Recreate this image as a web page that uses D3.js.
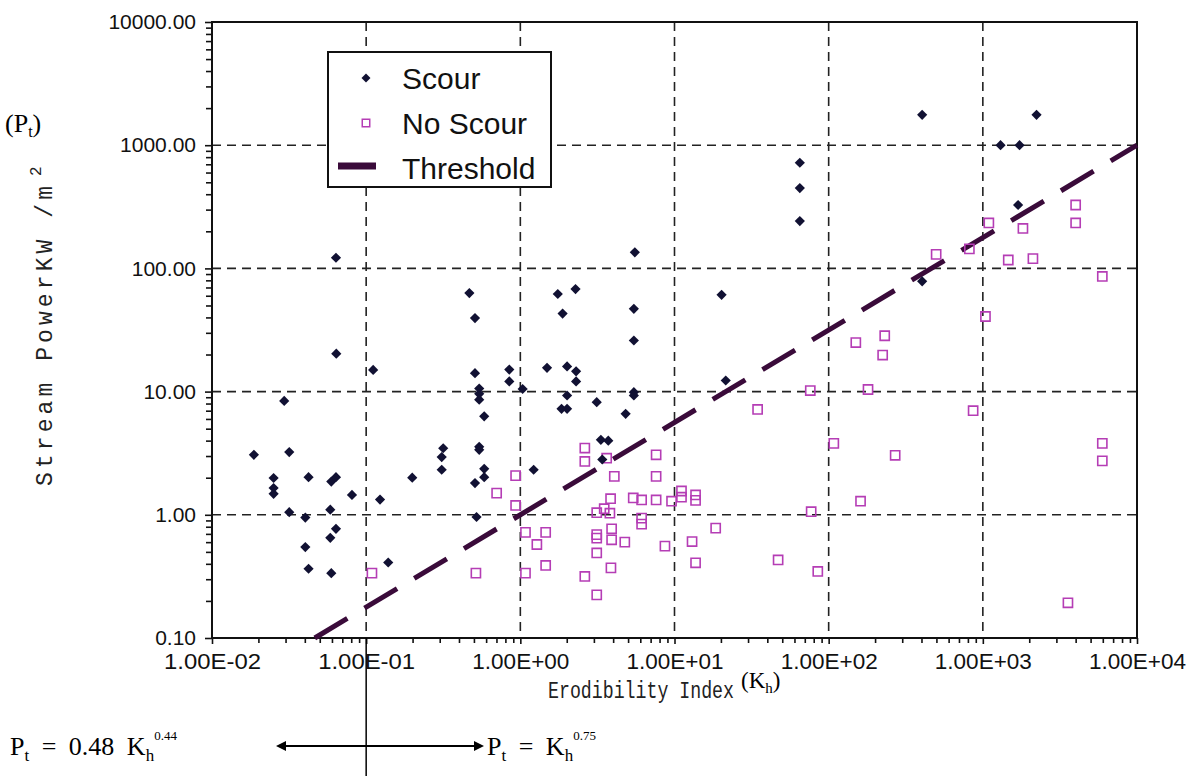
<!DOCTYPE html>
<html>
<head>
<meta charset="utf-8">
<title>Stream power vs erodibility index</title>
<script src="https://d3js.org/d3.v7.min.js"></script>
<style>
  body { margin: 0; background: #fff; }
  svg { display: block; }
  .tick text { font-family: "Liberation Sans", Arial, sans-serif; fill: #111; }
</style>
</head>
<body>
<svg id="chart" width="1190" height="776"></svg>
<script>
// --- data: [Kh, Pt] ---
var scourPoints = [
  [0.0637,122],[0.064,20.3],[0.0294,8.4],[0.0187,3.07],[0.0317,3.23],[0.0251,1.99],
  [0.0251,1.65],[0.0251,1.48],[0.0423,2.02],[0.0594,1.86],[0.0637,2.02],[0.0809,1.45],
  [0.0317,1.05],[0.0403,0.95],[0.0585,1.1],[0.0637,0.77],[0.0585,0.65],[0.0403,0.547],
  [0.0423,0.365],[0.0594,0.336],
  [0.467,63],[0.508,39.5],[0.111,15],[0.508,14.1],[0.848,15.1],[0.848,12.1],[1.035,10.5],
  [0.541,10.6],[0.541,9.6],[0.541,8.6],[0.583,6.3],[0.541,3.56],[0.541,3.37],[0.316,3.47],
  [0.309,2.94],[0.309,2.32],[0.583,2.36],[0.583,2.02],[0.199,2.0],[0.508,1.81],[0.123,1.33],
  [0.52,0.96],[0.139,0.41],
  [5.53,135],[1.75,62],[2.28,68],[1.88,43],[5.45,47],[5.45,26],[1.49,15.6],[2.01,16],
  [2.3,14.6],[2.3,12.1],[2.01,9.3],[1.85,7.25],[2.01,7.25],[3.13,8.2],[5.45,9.9],[5.45,9.3],
  [4.82,6.6],[3.33,4.06],[3.72,4.0],[3.4,2.81],[1.22,2.32],
  [21.5,12.3],[20.2,61],[65,720],[65,449],[65,242],
  [404,1763],[2230,1763],[1303,1000],[1730,1000],[1694,327],[404,78.5]
];
var noScourPoints = [
  [0.109,0.336],[0.515,0.336],[0.702,1.5],[0.932,2.08],[0.932,1.19],[1.08,0.72],[1.08,0.336],
  [2.62,3.48],[2.62,2.71],[3.63,2.88],[4.07,2.05],[7.6,3.07],[7.6,2.05],[3.85,1.35],[5.4,1.37],
  [6.12,1.32],[7.6,1.32],[9.57,1.29],[11.1,1.56],[11.1,1.39],[13.7,1.45],[13.7,1.31],
  [3.13,1.04],[3.5,1.12],[3.81,1.03],[6.12,0.94],[6.12,0.84],[1.46,0.72],[1.28,0.574],
  [3.13,0.69],[3.13,0.647],[3.91,0.627],[3.91,0.77],[4.76,0.6],[8.67,0.557],[3.13,0.49],
  [1.46,0.388],[3.87,0.371],[2.62,0.316],[3.13,0.224],
  [34.6,7.16],[18.5,0.78],[13.0,0.607],[13.7,0.408],[47,0.43],
  [1094,234],[1820,211],[4000,327],[4000,234],[1462,117],[2113,120],[5957,86],[498,130],
  [818,144],[1040,40.7],[150,25],[231,28.4],[224,19.8],[76,10.2],[180,10.4],[865,7.0],
  [108,3.8],[270,3.04],[161,1.29],[77,1.06],[5957,3.8],[5957,2.74],[85,0.347],[3565,0.193]
];
var thresholdPoints = [[0.0464,0.1],[10000,1000]];   // Pt = Kh^0.75

var xDecades = [0.01,0.1,1,10,100,1000,10000];
var xTickLabels = ["1.00E-02","1.00E-01","1.00E+00","1.00E+01","1.00E+02","1.00E+03","1.00E+04"];
var yDecades = [0.1,1,10,100,1000,10000];
var yTickLabels = ["0.10","1.00","10.00","100.00","1000.00","10000.00"];
var legendLabels = ["Scour","No Scour","Threshold"];

var plotLeft = 212, plotRight = 1137, plotTop = 22, plotBottom = 638;
var scourColor = "#111133", noScourColor = "#b53db5", threshColor = "#3a0b3a";

var svg = d3.select("#chart");
var x = d3.scaleLog().domain([0.01, 10000]).range([plotLeft, plotRight]);
var y = d3.scaleLog().domain([0.1, 10000]).range([plotBottom, plotTop]);

// minor tick positions 2..9 inside each decade
var xMinor = [], yMinor = [];
xDecades.slice(0,-1).forEach(function(d){ for (var m=2;m<10;m++) xMinor.push(d*m); });
yDecades.slice(0,-1).forEach(function(d){ for (var m=2;m<10;m++) yMinor.push(d*m); });

// dashed grid
svg.append("g").selectAll("line")
  .data(xDecades.slice(1,-1)).join("line")
  .attr("x1", d => x(d)).attr("x2", d => x(d))
  .attr("y1", plotTop).attr("y2", plotBottom)
  .attr("stroke", "#222").attr("stroke-width", 1.6).attr("stroke-dasharray", "9,6");
svg.append("g").selectAll("line")
  .data(yDecades.slice(1,-1)).join("line")
  .attr("y1", d => y(d)).attr("y2", d => y(d))
  .attr("x1", plotLeft).attr("x2", plotRight)
  .attr("stroke", "#222").attr("stroke-width", 1.6).attr("stroke-dasharray", "9,6");

// axes
var xAxis = svg.append("g").attr("transform", "translate(0," + plotBottom + ")")
  .call(d3.axisBottom(x).tickValues(xDecades).tickFormat((d,i) => xTickLabels[i]).tickSize(6).tickPadding(9));
var xMin = svg.append("g").attr("transform", "translate(0," + plotBottom + ")")
  .call(d3.axisBottom(x).tickValues(xMinor).tickFormat("").tickSize(5));
var yAxis = svg.append("g").attr("transform", "translate(" + plotLeft + ",0)")
  .call(d3.axisLeft(y).tickValues(yDecades).tickFormat((d,i) => yTickLabels[i]).tickSize(7).tickPadding(9));
var yMin = svg.append("g").attr("transform", "translate(" + plotLeft + ",0)")
  .call(d3.axisLeft(y).tickValues(yMinor).tickFormat("").tickSize(6));
[xAxis, xMin, yAxis, yMin].forEach(function(g){
  g.select(".domain").remove();
  g.selectAll(".tick line").attr("stroke", "#111").attr("stroke-width", 1.6);
});
xAxis.selectAll(".tick text").style("font-size", "22px").attr("textLength", 97).attr("lengthAdjust", "spacingAndGlyphs");
yAxis.selectAll(".tick text").style("font-size", "21px");

// frame
svg.append("rect").attr("x", plotLeft).attr("y", plotTop)
  .attr("width", plotRight-plotLeft).attr("height", plotBottom-plotTop)
  .attr("fill", "none").attr("stroke", "#111").attr("stroke-width", 2);

// threshold
svg.append("path").datum(thresholdPoints)
  .attr("d", d3.line().x(d => x(d[0])).y(d => y(d[1])))
  .attr("fill", "none").attr("stroke", threshColor).attr("stroke-width", 5)
  .attr("stroke-dasharray", "38,20");

// points
var diamond = d3.symbol().type(d3.symbolSquare).size(52);
var square = d3.symbol().type(d3.symbolSquare).size(84);
svg.append("g").selectAll("path")
  .data(noScourPoints).join("path")
  .attr("d", square)
  .attr("transform", d => "translate(" + x(d[0]) + "," + y(d[1]) + ")")
  .attr("fill", "none").attr("stroke", noScourColor).attr("stroke-width", 1.6);
svg.append("g").selectAll("path")
  .data(scourPoints).join("path")
  .attr("d", diamond)
  .attr("transform", d => "translate(" + x(d[0]) + "," + y(d[1]) + ") rotate(45)")
  .attr("fill", scourColor);

// legend
var lg = svg.append("g");
lg.append("rect").attr("x", 328).attr("y", 52).attr("width", 223).attr("height", 135)
  .attr("fill", "#fff").attr("stroke", "#111").attr("stroke-width", 2);
lg.append("path").attr("d", d3.symbol().type(d3.symbolSquare).size(40))
  .attr("transform", "translate(366,78) rotate(45)").attr("fill", scourColor);
lg.append("path").attr("d", d3.symbol().type(d3.symbolSquare).size(56))
  .attr("transform", "translate(366,123)").attr("fill", "none")
  .attr("stroke", noScourColor).attr("stroke-width", 1.5);
lg.append("line").attr("x1", 338).attr("x2", 376).attr("y1", 166).attr("y2", 166)
  .attr("stroke", threshColor).attr("stroke-width", 7);
lg.selectAll("text").data(legendLabels).join("text")
  .attr("x", 402).attr("y", (d,i) => 89 + i*45)
  .style("font-family", "Liberation Sans, Arial, sans-serif").style("font-size", "30px")
  .attr("fill", "#111").text(d => d);

// axis titles
var ylab = svg.append("text")
  .attr("transform", "translate(52,486) rotate(-90)")
  .style("font-family", "Liberation Mono, Courier New, monospace").style("font-size", "23px")
  .attr("fill", "#222");
ylab.append("tspan").text("Stream PowerKW /m").attr("textLength", 300).attr("lengthAdjust", "spacing");
ylab.append("tspan").text("2").attr("dx", 6).attr("dy", -11).style("font-size", "16px");

svg.append("text").attr("x", 548).attr("y", 698)
  .attr("textLength", 186).attr("lengthAdjust", "spacingAndGlyphs")
  .style("font-family", "Liberation Mono, Courier New, monospace").style("font-size", "24px")
  .attr("fill", "#222").text("Erodibility Index");

// math-like labels: parts are [text, fontSize, dy]
function subText(g, xPos, yPos, size, parts) {
  var t = g.append("text").attr("x", xPos).attr("y", yPos)
    .style("font-family", "Liberation Serif, Times New Roman, serif")
    .style("font-size", size + "px").style("word-spacing", "6px").attr("fill", "#000");
  parts.forEach(function(p){
    var s = t.append("tspan").text(p[0]);
    if (p[1]) s.style("font-size", p[1] + "px");
    if (p[2]) s.attr("dy", p[2]);
  });
  return t;
}
subText(svg, 741, 688, 23, [["(K"],["h",15,5],[")",null,-5]]);
subText(svg, 5, 132, 26, [["(P"],["t",16,5],[")",null,-5]]);
subText(svg, 10, 755, 26, [["P"],["t",17,6],[" = 0.48 K",null,-6],["h",17,6],["0.44",13,-21]]);
subText(svg, 487, 755, 26, [["P"],["t",17,6],[" = K",null,-6],["h",17,6],["0.75",13,-21]]);

// arrow and marker line
var defs = svg.append("defs");
["start","end"].forEach(function(k){
  defs.append("marker").attr("id", "arr-" + k)
    .attr("viewBox", "0 0 10 10").attr("refX", 5).attr("refY", 5)
    .attr("markerWidth", 5).attr("markerHeight", 5)
    .attr("orient", k == "start" ? "auto-start-reverse" : "auto")
    .append("path").attr("d", "M0,0 L10,5 L0,10 z").attr("fill", "#000");
});
svg.append("line").attr("x1", 281).attr("x2", 479).attr("y1", 746).attr("y2", 746)
  .attr("stroke", "#000").attr("stroke-width", 2)
  .attr("marker-start", "url(#arr-start)").attr("marker-end", "url(#arr-end)");
svg.append("line").attr("x1", x(0.1)).attr("x2", x(0.1)).attr("y1", plotBottom).attr("y2", 776)
  .attr("stroke", "#000").attr("stroke-width", 1.5);
</script>
</body>
</html>
